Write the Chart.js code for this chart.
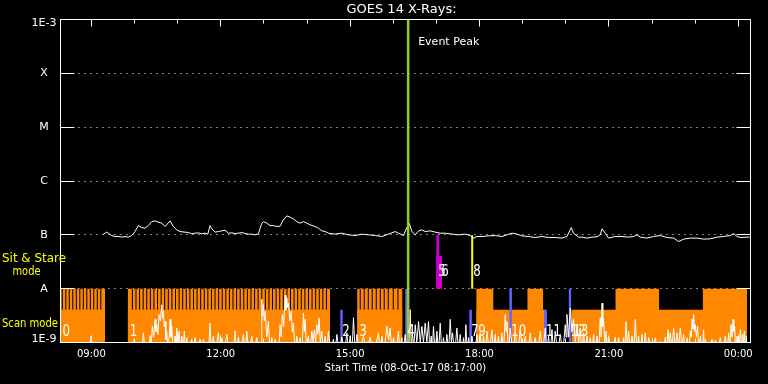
<!DOCTYPE html>
<html><head><meta charset="utf-8">
<script src="https://cdn.jsdelivr.net/npm/chart.js@4.4.0/dist/chart.umd.min.js"></script>
<style>html,body{margin:0;padding:0;background:#000;overflow:hidden}canvas{display:block}</style>
</head><body>
<canvas id="c" width="768" height="384"></canvas>
<script>
// ---- text ----
const chartTitle = 'GOES 14 X-Rays:';
const xTitle = 'Start Time (08-Oct-17 08:17:00)';
const eventText = 'Event Peak';
// ---- axes (time in minutes after 08:17) ----
const xMin = 0, xMax = 960;
const xTickMinutes = [43, 223, 403, 583, 763, 943];
const xTickLabels = ['09:00', '12:00', '15:00', '18:00', '21:00', '00:00'];
const hourMinutes = [43, 103, 163, 223, 283, 343, 403, 463, 523, 583, 643, 703, 763, 823, 883, 943];
const yTickValues = [1e-9, 1e-8, 1e-7, 1e-6, 1e-5, 1e-4, 1e-3];
const yTickLabels = ['1E-9', 'A', 'B', 'C', 'M', 'X', '1E-3'];
// ---- GOES long channel, log10 flux ----
const fluxLog = [[59.6,-6.987],[64.3,-6.950],[66.5,-6.969],[71.3,-7.013],[75.9,-7.031],[80.5,-7.031],[85.2,-7.043],[89.8,-7.031],[94.4,-7.043],[99.1,-7.013],[103.7,-6.939],[108.3,-6.828],[113.0,-6.865],[117.6,-6.876],[122.2,-6.828],[127.0,-6.754],[131.5,-6.741],[136.1,-6.765],[140.9,-6.783],[145.5,-6.846],[152.4,-6.741],[157.0,-6.846],[161.8,-6.907],[166.3,-6.939],[173.3,-6.950],[177.9,-6.957],[182.6,-6.981],[187.2,-6.969],[191.8,-6.963],[196.6,-6.981],[201.1,-6.969],[204.9,-6.987],[208.1,-6.828],[210.5,-6.889],[215.1,-6.950],[219.7,-6.939],[224.4,-6.926],[229.0,-6.913],[233.6,-6.969],[238.3,-6.963],[242.9,-6.976],[247.5,-6.969],[252.2,-6.957],[256.8,-6.976],[261.4,-6.987],[266.2,-6.987],[270.7,-7.000],[275.3,-6.981],[280.1,-6.783],[282.3,-6.754],[287.0,-6.783],[291.6,-6.828],[296.2,-6.828],[301.0,-6.846],[305.5,-6.839],[310.1,-6.722],[314.9,-6.648],[319.5,-6.672],[324.1,-6.704],[328.8,-6.754],[333.4,-6.783],[338.0,-6.754],[342.7,-6.783],[347.3,-6.815],[354.3,-6.846],[358.9,-6.876],[363.6,-6.926],[368.2,-6.939],[372.8,-6.969],[382.1,-6.987],[391.4,-6.969],[400.6,-7.000],[409.9,-7.013],[419.3,-6.987],[428.5,-7.000],[437.8,-7.013],[447.1,-7.031],[456.3,-6.987],[465.6,-6.939],[470.2,-6.969],[477.2,-7.013],[480.5,-6.907],[485.1,-6.783],[488.9,-6.939],[493.5,-7.000],[498.1,-6.926],[502.8,-6.907],[507.4,-6.939],[514.3,-6.926],[521.3,-6.950],[528.3,-6.969],[535.2,-6.969],[544.6,-6.987],[553.7,-7.000],[563.1,-6.987],[570.0,-7.013],[574.6,-7.061],[579.4,-7.031],[586.3,-7.031],[595.5,-7.019],[604.8,-7.013],[614.1,-7.031],[621.1,-7.000],[628.1,-6.969],[635.0,-6.987],[642.0,-7.019],[651.2,-7.031],[660.5,-7.050],[669.8,-7.031],[679.0,-7.050],[688.3,-7.050],[697.7,-7.061],[704.6,-7.031],[710.6,-6.865],[713.8,-6.969],[720.8,-7.043],[725.5,-7.043],[732.5,-7.061],[739.4,-7.043],[746.4,-7.037],[751.0,-7.000],[753.4,-6.889],[758.0,-6.969],[762.5,-7.061],[771.9,-7.031],[781.2,-7.031],[790.4,-7.043],[797.3,-7.031],[802.1,-7.000],[806.7,-7.043],[816.0,-7.061],[825.2,-7.031],[834.5,-7.013],[843.8,-7.050],[853.0,-7.061],[860.0,-7.124],[866.9,-7.080],[876.3,-7.061],[885.6,-7.061],[894.8,-7.080],[904.1,-7.074],[913.4,-7.043],[922.6,-7.031],[932.0,-7.013],[936.5,-6.976],[941.3,-7.031],[945.9,-7.050],[955.2,-7.043],[958.8,-7.043]];
// ---- low-level spiky trace, log10 ----
const lowLog = [[40,-9.2],[42.5,-8.88],[45,-9.2],[100,-9.2],[102.7,-8.94],[105,-9.2],[113,-9.2],[115.3,-8.82],[118,-9.2],[123,-9.2],[124.6,-8.87],[126,-9.05],[127.8,-8.70],[129.5,-8.9],[131.5,-8.57],[132.7,-8.8],[133.9,-8.67],[135.5,-8.85],[137.1,-8.48],[139,-8.6],[140.9,-8.30],[142,-8.55],[143.1,-8.41],[144.3,-8.7],[145.5,-8.61],[146.7,-8.95],[147.8,-8.79],[150,-9.2],[152.4,-8.57],[153.6,-8.9],[154.8,-8.70],[157,-9.2],[159.4,-8.88],[160.5,-9.0],[161.8,-8.73],[163.5,-9.0],[165,-8.79],[167,-9.2],[168.7,-8.88],[170.5,-9.2],[172.3,-8.79],[174,-9.2],
[175.7,-8.91],[178,-9.2],[182.6,-8.94],[185,-9.2],[187.2,-8.91],[190,-9.2],[194.2,-8.94],[196.5,-9.2],[198.8,-8.94],[201,-9.2],[206,-9.2],[208.1,-8.64],[210,-9.2],[212.7,-8.88],[215,-9.2],[219.7,-8.82],[222,-9.2],[224.4,-8.91],[227,-9.2],[231.4,-8.85],[235,-9.2],[240,-9.2],[242.9,-8.78],[245,-9.2],[247.5,-8.90],[250,-9.2],[254.5,-8.85],[256.8,-9.2],[259.2,-8.79],[262,-9.2],[266.2,-8.88],[269,-9.2],[273.1,-8.91],[276,-9.2],[279,-9.2],[280.1,-8.20],[281.2,-8.5],[282.3,-8.30],[283.5,-8.6],[284.7,-8.42],[287,-8.9],[289.3,-8.61],[291.5,-9.2],[294,-8.91],[296,-9.2],[298.6,-8.94],[301,-9.2],[303.5,-9.2],[305.5,-8.67],[307,-8.9],[308.8,-8.48],[310.5,-8.7],[312.5,-8.12],[313.7,-8.4],[314.9,-8.17],[316,-8.35],[317.1,-8.27],[319,-8.6],[320.9,-8.42],[322.5,-8.8],[324.1,-8.64],[326.5,-9.2],[328.8,-8.88],[331,-9.2],[333.4,-8.91],[336,-9.2],[338,-8.45],[339.2,-8.8],[340.4,-8.57],[342.5,-9.2],[344.9,-8.88],[347,-9.2],[349.7,-8.79],[351.5,-9.0],[353.3,-8.76],
[355,-9.0],[356.6,-8.67],[358,-8.85],[359.8,-8.54],[361.5,-9.0],[363.6,-8.79],[366,-9.2],[368.2,-8.88],[370.5,-9.2],[372.8,-8.79],[376,-9.2],[379.7,-8.94],[382,-9.2],[384.5,-8.85],[388,-9.2],[391.4,-8.90],[395,-9.2],[398.4,-8.82],[400.5,-9.2],[403,-8.88],[405.5,-9.2],[407.6,-8.54],[410,-9.2],[412.3,-8.85],[416,-9.2],[421.5,-8.88],[426,-9.2],[430.8,-8.90],[436,-9.2],[442.4,-8.82],[444.5,-9.2],[447.1,-8.88],[450,-9.2],[454.1,-8.70],[456.5,-8.95],[458.7,-8.73],[461,-9.2],[463.3,-8.91],[466.5,-9.2],[470.2,-8.79],[472.5,-9.2],[474.9,-8.91],[477,-9.2],[479.5,-8.85],[482,-9.2],[484.5,-9.2],[486.5,-8.39],[488,-9.1],[489.7,-8.82],[491.5,-9.1],[493.5,-8.67],[495.8,-9.0],[498.1,-8.61],[500.5,-9.0],[502.8,-8.70],[505,-9.0],[507.4,-8.64],[509.7,-9.0],[512,-8.61],[514,-9.2],[515.7,-8.88],[517.3,-9.2],[518.9,-8.70],[521.3,-9.2],[523.7,-8.79],[526,-9.2],[528.3,-8.64],[530.6,-9.2],[532.9,-8.91],[535.2,-9.2],
[537.6,-8.85],[539.9,-9.2],[542.2,-8.57],[543.8,-9.0],[545.4,-8.82],[548.5,-9.2],[551.5,-8.73],[553.8,-9.2],[556.1,-8.85],[558.4,-9.2],[560.7,-8.91],[562.4,-9.2],[564,-8.67],[565.9,-9.2],[567.7,-8.91],[570,-9.2],[572.4,-8.88],[576,-9.2],[579.4,-8.85],[581.7,-9.2],[584,-8.82],[586.3,-9.2],[588.5,-8.88],[591,-9.2],[593.3,-8.79],[596.8,-9.2],[600.2,-8.76],[602.5,-9.2],[604.8,-8.85],[607.1,-9.2],[609.4,-8.88],[611.8,-9.2],[614.1,-8.82],[616.4,-9.2],[618.7,-8.48],[619.9,-8.8],[621.1,-8.61],[623.4,-9.2],[625.7,-8.73],[629.2,-9.2],[632.7,-8.82],[636.2,-9.2],[639.6,-8.76],[643.1,-9.2],[646.6,-8.88],[650,-9.2],[653.5,-8.82],[657,-9.2],[660.5,-8.91],[664,-9.2],[667.5,-8.79],[671,-9.2],[674.4,-8.73],[676.7,-9.2],[679,-8.88],[681.4,-9.2],[683.8,-8.76],[686,-9.2],[688.3,-8.79],[691.8,-9.2],[695.3,-8.85],[698.8,-9.2],[702.3,-8.67],[703.5,-8.9],[704.6,-8.48],[706.9,-8.9],[709.2,-8.36],[711.5,-8.8],[713.8,-8.57],[716.2,-9.0],
[718.6,-8.67],[720.9,-9.0],[723.1,-8.73],[725.4,-9.2],[727.7,-8.82],[730.1,-9.2],[732.5,-8.88],[734.8,-9.2],[737.1,-8.91],[739.4,-9.2],[741.7,-8.85],[744,-9.2],[746.4,-8.88],[748.7,-9.2],[751,-8.54],[752.2,-8.9],[753.4,-8.27],[754.5,-8.7],[755.6,-8.57],[757.2,-9.0],[758.9,-8.79],[760.7,-9.2],[762.5,-8.88],[767,-9.2],[771.9,-8.90],[774.2,-9.2],[776.5,-8.91],[780,-9.2],[783.4,-8.91],[785,-9.2],[786.8,-8.61],[788.6,-9.1],[790.4,-8.79],[792.7,-9.2],[795.1,-8.88],[797.4,-9.2],[799.7,-8.57],[802,-9.2],[804.3,-8.88],[806.7,-9.2],[809.1,-8.85],[811.3,-9.2],[813.6,-8.82],[815.9,-9.2],[818.2,-8.91],[823,-9.2],[827.5,-8.91],[831,-9.2],[834.5,-8.98],[838,-9.2],[841.5,-8.90],[843.4,-9.1],[845.2,-8.76],[846.8,-9.0],[848.4,-8.82],[850.7,-9.1],[853,-8.73],[855.4,-9.1],[857.8,-8.82],[860,-9.1],[862.3,-8.73],[864.6,-9.1],[866.9,-8.85],[869.3,-9.2],[871.7,-8.91],[874,-9.2],[876.3,-8.79],[877.5,-8.9],[878.7,-8.57],[879.8,-8.75],[880.9,-8.48],[882,-8.8],[883.2,-8.67],[884.8,-8.9],[886.4,-8.70],[888.3,-9.2],[890.2,-8.88],[892.5,-9.2],[894.8,-8.76],[896,-9.2],
[897.1,-8.94],[901,-9.2],[906.5,-8.94],[909,-9.2],[911.1,-8.96],[914,-9.2],[918,-8.91],[921.5,-9.2],[925,-8.88],[927.3,-9.2],[929.6,-8.82],[931.3,-9.1],[932.9,-8.67],[934.3,-8.9],[935.7,-8.57],[936.8,-8.8],[937.9,-8.70],[939.6,-9.2],[941.3,-8.88],[943.6,-9.2],[945.9,-8.76],[947.5,-9.1],[949.1,-8.85],[950.3,-9.1],[951.4,-8.79],[952.8,-9.1],[954.2,-8.88],[955.5,-9.2]];
// ---- observation modes (minutes) ----
const scanLowLevel = -8.39;   // log10 top of lower scan band
const scanFullLevel = -8.0;   // log10 top of full scan band
const scanLow = [[0,62],[93.5,375.1],[412.7,475.8],[578.4,674.5],[710.6,955.2]];
const scanFull = [[0,62],[93.5,375.1],[412.7,475.8],[578.4,602.5],[649.4,671.7],[771.9,833.1],[893.4,955.2]];
const rasterStarts = [2.5,7.4,12.2,17.1,22,26.9,31.7,36.6,41.5,46.3,51.2,56.1,
 100,105,110,115,120,125,130,135,140,145,150,155,160,165,170,175,180,185,190,195,200,205,210,215,220,225,230,235,240,245,250,255,260,265,270,275,280,285,290,295,300,305,310,315,320,325,330,335,340,345,350,355,360,365,370,
 417,422.6,428.2,433.7,439.3,444.9,450.4,456,463,469.5];
const blueFull = [[479.5,482.7],[624.3,628.1],[706.9,710.6]];
const bluePartial = [[389.1,392.8],[568.6,572.4],[672.6,676.8]];
const sitBase = -8.0;
const sitMagenta = [[522.7,526.9,-7.0],[522.7,531.1,-7.39]];
const sitYellow = [572.8, -7.01];
const eventPeak = 483.7;
const obsIds = ['0','1','2','3','4','5','6','7','8','9','10','11','12','13'];
const obsStart = [0,93.5,389.1,412.7,479.5,522.7,526.9,568.6,571.4,578.4,624.3,672.6,706.9,710.6];
const obsLabelLevel = [-8.815,-8.815,-8.815,-8.815,-8.815,-7.685,-7.685,-8.815,-7.685,-8.815,-8.815,-8.815,-8.815,-8.815];

// ---- build library data ----
const P = v => Math.pow(10, v);
const pairs = a => a.map(([t, v]) => ({x: t, y: P(v)}));
function bands(intervals, level) {
  const pts = [];
  intervals.forEach(iv => { const lv = iv.length > 2 ? iv[2] : level;
    pts.push({x: iv[0], y: P(lv)}, {x: iv[1], y: P(lv)}, {x: iv[1], y: null}); });
  return pts;
}
const stripes = [];
rasterStarts.forEach(t => stripes.push({x: t, y: P(scanLowLevel)}, {x: t, y: P(scanFullLevel)}, {x: t, y: null}));

const ORANGE = '#ff8800', BLUE = '#6464ff', MAGENTA = '#cc00cc', YELLOW = '#ffff00', GREEN = '#9acd1a';
const fillDs = (data, color, order, fill) => ({type: 'line', data, order, fill: fill || 'start', backgroundColor: color,
  borderColor: 'rgba(0,0,0,0)', borderWidth: 0, pointRadius: 0, spanGaps: false, tension: 0});

Chart.defaults.font.family = '"DejaVu Sans", sans-serif';

const decor = {
  id: 'decor',
  afterDatasetsDraw(chart) {
    const {ctx, chartArea: {left, right, top, bottom}, scales: {x, y}} = chart;
    const al = p => Math.round(p - 0.5) + 0.5;
    ctx.save();
    ctx.strokeStyle = '#fff'; ctx.lineWidth = 1;
    const seg = (a, b, c, d) => { ctx.beginPath(); ctx.moveTo(a, b); ctx.lineTo(c, d); ctx.stroke(); };
    y.ticks.forEach((tk, i) => { if (i === 0 || i === y.ticks.length - 1) return;
      const py = al(y.getPixelForValue(tk.value)); seg(left, py, left + 14, py); seg(right - 14, py, right, py); });
    hourMinutes.forEach(m => { const px = al(x.getPixelForValue(m)); const len = xTickMinutes.includes(m) ? 7 : 4;
      seg(px, top, px, top + len); seg(px, bottom, px, bottom - len); });
    ctx.strokeRect(left, top, right - left, bottom - top);
    // observation numbers
    ctx.fillStyle = '#fff'; ctx.textBaseline = 'middle'; ctx.textAlign = 'left';
    ctx.font = '15px "DejaVu Sans"';
    obsIds.forEach((id, i) => {
      ctx.fillText(id, x.getPixelForValue(obsStart[i]) + 2, y.getPixelForValue(P(obsLabelLevel[i])), 7.5 * id.length);
    });
    ctx.font = '11px "DejaVu Sans"';
    ctx.fillText(eventText, x.getPixelForValue(eventPeak) + 10, top + 23);
    ctx.restore();
  },
  afterDraw(chart) {
    const {ctx, chartArea: {left, right}} = chart;
    ctx.save();
    ctx.fillStyle = '#fff'; ctx.textBaseline = 'middle'; ctx.textAlign = 'center';
    ctx.font = '13px "DejaVu Sans"';
    ctx.fillText(chartTitle, (left + right) / 2 - 4, 9.5);
    ctx.fillStyle = YELLOW; ctx.textAlign = 'left'; ctx.font = '12px "DejaVu Sans"';
    ctx.fillText('Sit & Stare', 2, 259, 64);
    ctx.fillText('mode', 12.5, 271.5, 28);
    ctx.fillText('Scan mode', 2, 324, 56);
    ctx.restore();
  }
};

new Chart(document.getElementById('c'), {
  type: 'line',
  data: {
    datasets: [
      {type: 'line', data: [{x: eventPeak, y: 1e-9}, {x: eventPeak, y: 1e-3}], borderColor: GREEN, borderWidth: 2.5, pointRadius: 0, order: 1},
      {type: 'line', data: pairs(fluxLog), borderColor: '#fff', borderWidth: 1, pointRadius: 0, order: 2, tension: 0},
      {type: 'line', data: pairs(lowLog), borderColor: '#fff', borderWidth: 1, pointRadius: 0, order: 3, tension: 0},
      {type: 'line', data: [{x: sitYellow[0], y: P(sitBase)}, {x: sitYellow[0], y: P(sitYellow[1])}], borderColor: YELLOW, borderWidth: 2, pointRadius: 0, order: 4},
      fillDs(bands(sitMagenta, 0), MAGENTA, 5, {value: P(sitBase)}),
      fillDs(bands(blueFull, scanFullLevel), BLUE, 6),
      fillDs(bands(bluePartial, scanLowLevel), BLUE, 6),
      {type: 'line', data: stripes, borderColor: '#000', borderWidth: 1, pointRadius: 0, spanGaps: false, order: 7},
      fillDs(bands(scanFull, scanFullLevel), ORANGE, 8),
      fillDs(bands(scanLow, scanLowLevel), ORANGE, 9)
    ]
  },
  options: {
    responsive: false, animation: false, devicePixelRatio: 1, events: [],
    layout: {padding: {top: 19.5, right: 17.5, left: 0, bottom: 0}},
    plugins: {legend: {display: false}, tooltip: {enabled: false}},
    scales: {
      x: {type: 'linear', min: xMin, max: xMax, position: 'bottom',
        afterBuildTicks: s => { s.ticks = xTickMinutes.map(v => ({value: v})); },
        afterFit: s => { s.height = 41.5; },
        ticks: {color: '#fff', font: {size: 10}, padding: 6, maxRotation: 0, autoSkip: false,
          callback: (v, i) => xTickLabels[i]},
        grid: {display: false, drawTicks: false}, border: {display: false},
        title: {display: true, text: xTitle, color: '#fff', font: {size: 10}, padding: {top: 0, bottom: 10}}
      },
      y: {type: 'logarithmic', min: 1e-9, max: 1e-3,
        afterBuildTicks: s => { s.ticks = yTickValues.map(v => ({value: v})); },
        afterFit: s => { s.width = 60.5; },
        ticks: {color: '#fff', font: {size: 11, lineHeight: 0.7}, padding: 4, crossAlign: 'center', autoSkip: false,
          callback: (v, i) => i === yTickValues.length - 1 ? ['', yTickLabels[i]] : (i === 0 ? [yTickLabels[i], ''] : yTickLabels[i])},
        grid: {color: c => (c.index === 0 || c.index === yTickValues.length - 1) ? 'rgba(0,0,0,0)' : '#fff', drawTicks: false, lineWidth: 1},
        border: {display: false, dash: [1, 5], dashOffset: 0.5}
      }
    }
  },
  plugins: [decor]
});
</script>
</body></html>
